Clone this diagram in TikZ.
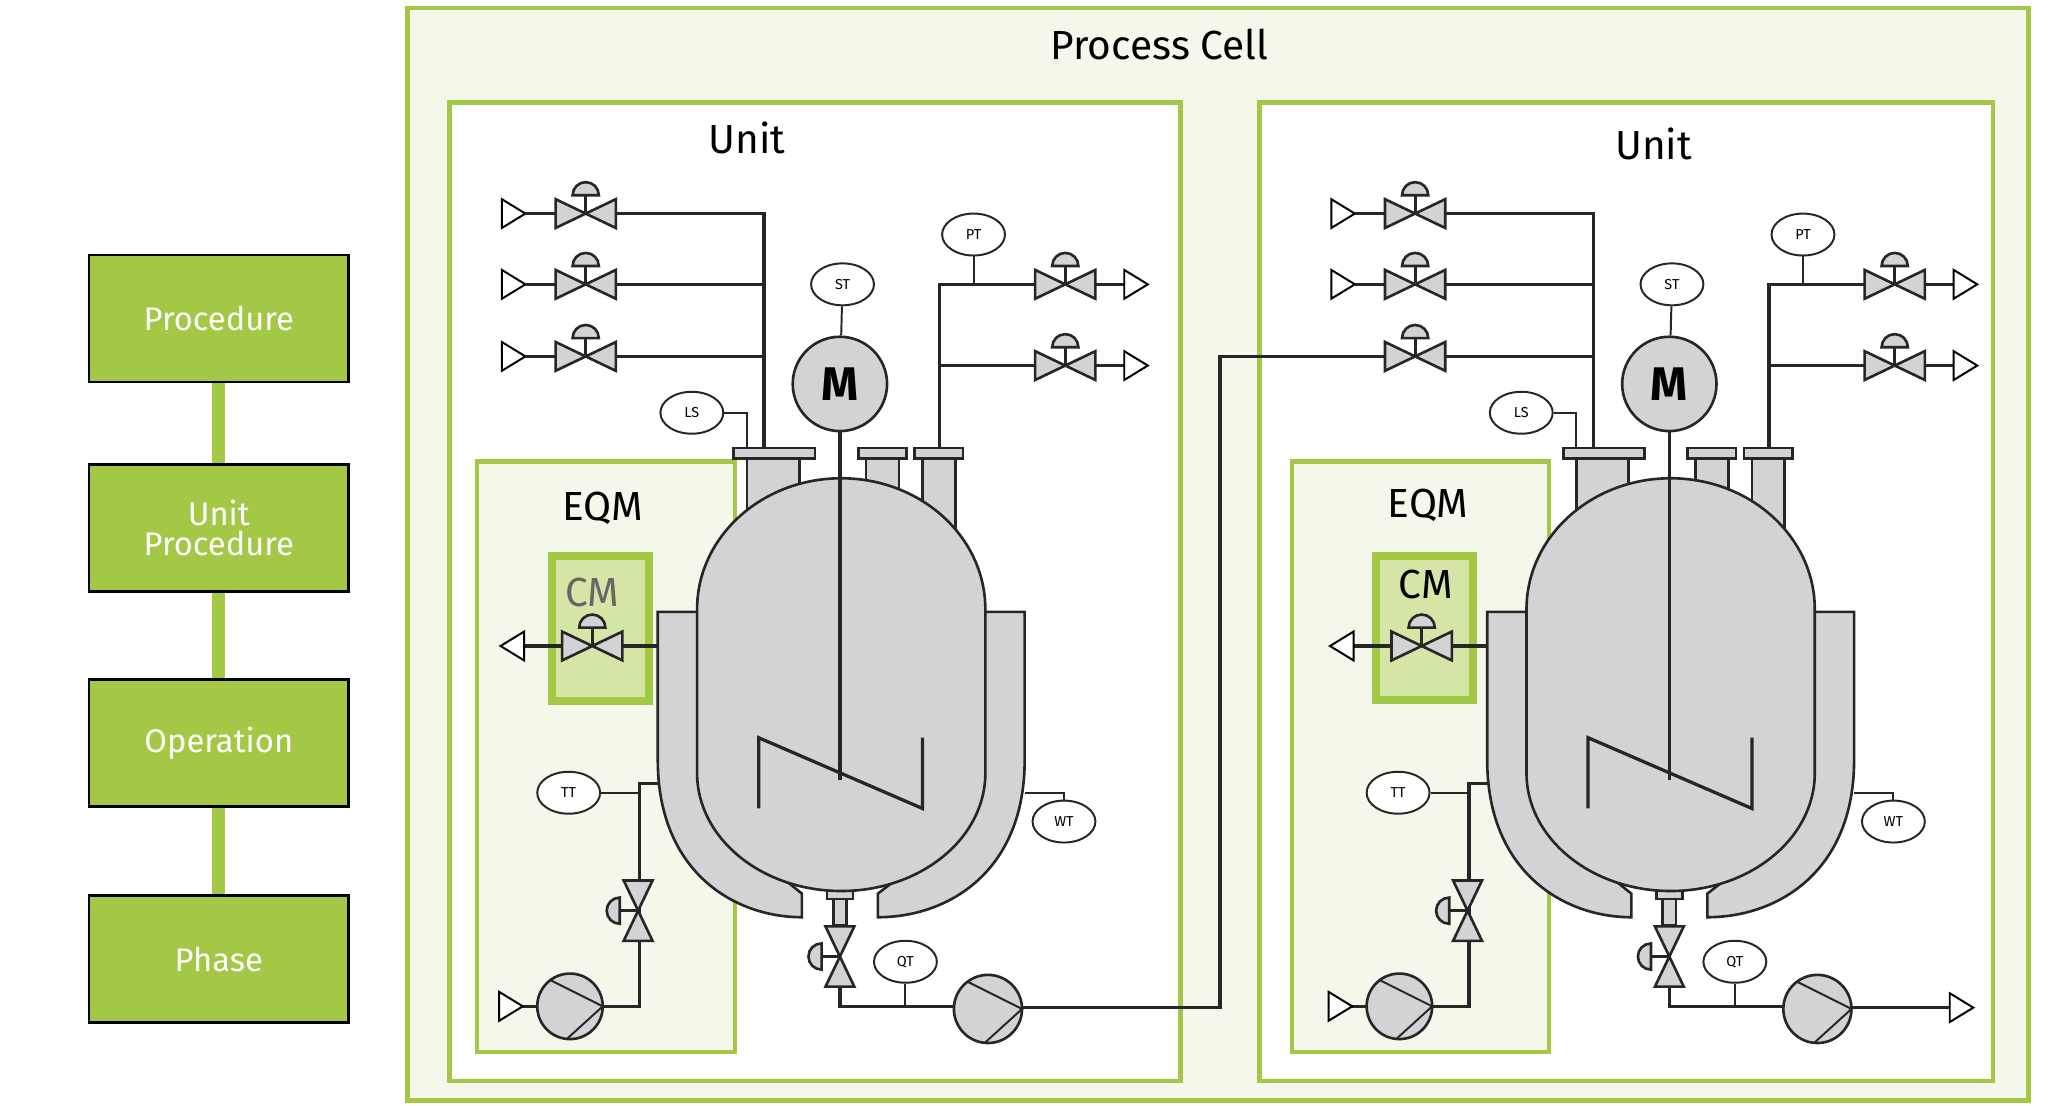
\documentclass[tikz,border=0pt]{standalone}
\usepackage{fontspec}
\setmainfont{Fira Sans}
\usetikzlibrary{positioning,shapes.geometric}
\definecolor{leaf}{HTML}{A2C845}
\definecolor{panel}{HTML}{F3F8EA}
\definecolor{cmfill}{HTML}{D4E6A5}
\definecolor{steel}{HTML}{D1D3D4}
\tikzset{
  level/.style={draw=black, line width=2pt, fill=leaf, minimum width=198pt, minimum height=97pt,
    text=white, font=\fontsize{25}{27}\selectfont, align=center, inner sep=0pt},
  box/.style={draw=leaf, line width=3.5pt},
  pipe/.style={draw=black!85, line width=2.5pt},
  part/.style={draw=black!85, line width=2pt, fill=steel},
  inst/.style={draw=black!85, line width=1.5pt, fill=white, ellipse, minimum width=48pt,
    minimum height=32pt, inner sep=0pt, font=\fontsize{11}{11}\selectfont},
  title/.style={font=\fontsize{31}{33}\selectfont}
}
% horizontal valve with actuator on top
\newcommand{\valveh}[2]{
  \draw[part] (#1-23,#2-11) -- (#1+23,#2+11) -- (#1+23,#2-11) -- (#1-23,#2+11) -- cycle;
  \draw[pipe] (#1,#2) -- (#1,#2-14);
  \draw[part] (#1-10,#2-14) arc (180:360:10) -- cycle;
}
% vertical valve with actuator on the left
\newcommand{\valvev}[2]{
  \draw[part] (#1-11,#2-23) -- (#1+11,#2+23) -- (#1-11,#2+23) -- (#1+11,#2-23) -- cycle;
  \draw[pipe] (#1,#2) -- (#1-14,#2);
  \draw[part] (#1-14,#2-10) arc (270:90:10) -- cycle;
}
% pump
\newcommand{\pump}[3]{
  \draw[part] (#1,#2) circle (#3);
  \draw[draw=black!85, line width=1.5pt] (#1-#3*0.6,#2-#3*0.8) -- (#1+#3,#2) -- (#1-#3*0.1,#2+#3);
}
% open triangle end
\newcommand{\tipin}[2]{\draw[line width=1.5pt, fill=white] (#1,#2-11) -- (#1+18,#2) -- (#1,#2+11) -- cycle;}
\newcommand{\tipout}[2]{\draw[line width=1.5pt, fill=white] (#1,#2-11) -- (#1-18,#2) -- (#1,#2+11) -- cycle;}
% one reactor with its instruments
\newcommand{\reactor}[1]{
  % feed lines
  \draw[pipe] (470,163) -| (583,345);
  \draw[pipe] (470,217) -- (583,217);
  \draw[pipe] (470,272) -- (583,272);
  \foreach \y in {163,217,272} {\valveh{447}{\y}}
  % vent lines
  \draw[pipe] (717,345) |- (790,217);
  \draw[pipe] (717,279) -- (790,279);
  \foreach \y in {217,279} {
    \valveh{813}{\y}
    \draw[pipe] (836,\y) -- (858,\y);
    \tipin{858}{\y}
  }
  \node[inst] (pt#1) at (743,179) {PT};
  \draw[pipe, line width=1.5pt] (pt#1) -- (743,217);
  \node[inst] (ls#1) at (528,315) {LS};
  \draw[pipe, line width=1.5pt] (ls#1) -| (570,345);
  \node[inst] (st#1) at (643,217) {ST};
  \node[part, circle, minimum size=72pt, inner sep=0pt, font=\fontsize{36}{36}\selectfont\bfseries] (m#1) at (641,293) {M};
  \draw[pipe, line width=1.5pt] (st#1) -- (m#1);
  % nozzles
  \draw[part] (570,350) rectangle (610,400);
  \draw[part] (560,342) rectangle (622,350);
  \draw[part] (661,350) rectangle (686,390);
  \draw[part] (655,342) rectangle (692,350);
  \draw[part] (704,350) rectangle (729,410);
  \draw[part] (698,342) rectangle (735,350);
  % jacket
  \draw[part] (532,467) -- (502,467) -- (502,580) .. controls (502,665) and (560,700) .. (612,700) -- (612,682) -- (560,640) -- cycle;
  \draw[part] (752,467) -- (782,467) -- (782,580) .. controls (782,665) and (724,700) .. (670,700) -- (670,682) -- (724,640) -- cycle;
  % bottom outlet nozzle
  \draw[part] (636,680) rectangle (646,706);
  \draw[part] (631,680) rectangle (651,686);
  % vessel
  \draw[part] (532,465) arc (180:360:110 and 100) -- (752,590) arc (0:180:110 and 90) -- cycle;
  \draw[pipe] (m#1) -- (641,595);
  \draw[pipe] (579,617) -- (579,563) -- (704,617) -- (704,563);
  % CM valve
  \draw[pipe] (475,493) -- (502,493);
  \draw[pipe] (429,493) -- (400,493);
  \valveh{452}{493}
  \tipout{400}{493}
  % jacket loop
  \draw[pipe] (502,598) -| (488,768) -- (460,768);
  \node[inst] (tt#1) at (434,605) {TT};
  \draw[pipe, line width=1.5pt] (tt#1) -- (488,605);
  \valvev{487}{695}
  \pump{435}{768}{25}
  \draw[pipe] (399,768) -- (410,768);
  \tipin{381}{768}
  % bottom line
  \draw[pipe] (641,753) |- (728,768);
  \valvev{641}{730}
  \node[inst] (qt#1) at (691,734) {QT};
  \draw[pipe, line width=1.5pt] (qt#1) -- (691,768);
  \pump{754}{770}{26}
  \node[inst] (wt#1) at (812,627) {WT};
  \draw[pipe, line width=1.5pt] (782,605) -| (wt#1);
}

\begin{document}
\begin{tikzpicture}[x=1pt, y=-1pt]
  \useasboundingbox (0,0) rectangle (1563,844);
  \fill[white] (0,0) rectangle (1563,844);
  % recipe levels
  \node[level] (proc) at (167,243) {Procedure};
  \node[level] (uproc) at (167,403) {Unit\\[-4pt]Procedure};
  \node[level] (oper) at (167,567) {Operation};
  \node[level] (phase) at (167,732) {Phase};
  \foreach \a/\b in {proc/uproc, uproc/oper, oper/phase}
    \draw[leaf, line width=10pt] (\a) -- (\b);
  % process cell
  \draw[box, fill=panel] (311,6) rectangle (1548,840);
  \node[title] (cell) at (885,34) {Process Cell};
  \draw[box, fill=white] (343,78) rectangle (901,825);
  \draw[box, fill=white] (961,78) rectangle (1521,825);
  \node[title] (unita) at (570,105) {Unit};
  \node[title] (unitb) at (1262,110) {Unit};
  \draw[box, fill=panel] (364,352) rectangle (561,803);
  \draw[box, fill=panel] (986,352) rectangle (1182,803);
  \node[title] (eqma) at (460,388) {EQM};
  \node[title] (eqmb) at (1090,386) {EQM};
  \draw[leaf, line width=6pt, fill=cmfill] (421,424) rectangle (495,535);
  \draw[leaf, line width=6pt, fill=cmfill] (1050,424) rectangle (1124,534);
  \node[title, text=black!60] (cma) at (452,452) {CM};
  \node[title] (cmb) at (1088,446) {CM};
  % first unit
  \reactor{a}
  \tipin{383}{163}
  \tipin{383}{217}
  \tipin{383}{272}
  \foreach \y in {163,217,272} {\draw[pipe] (401,\y) -- (424,\y);}
  \draw[pipe] (780,769) -| (931,272) -- (1057,272);
  % second unit
  \begin{scope}[xshift=633pt]
    \reactor{b}
    \tipin{383}{163}
    \tipin{383}{217}
    \foreach \y in {163,217} {\draw[pipe] (401,\y) -- (424,\y);}
    \draw[pipe] (780,769) -- (855,769);
    \tipin{855}{769}
  \end{scope}
\end{tikzpicture}
\end{document}
